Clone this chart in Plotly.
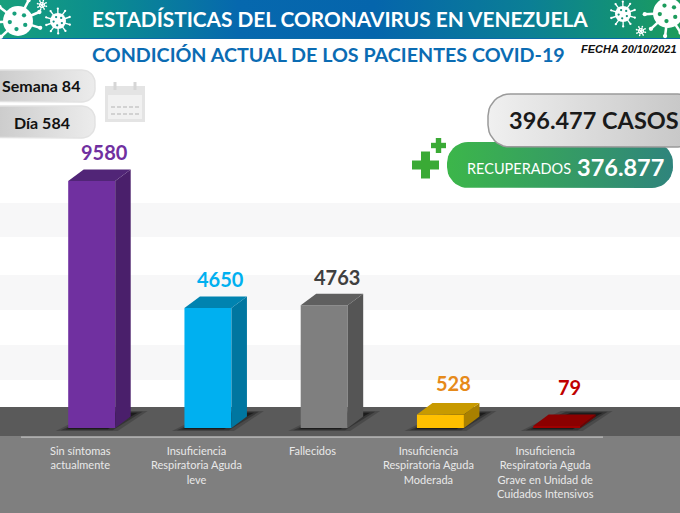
"""
Condicion actual de los pacientes COVID-19 en Venezuela
"""

import math

import plotly.graph_objects as go

categories = [
    "Sin síntomas<br>actualmente",
    "Insuficiencia<br>Respiratoria Aguda<br>leve",
    "Fallecidos",
    "Insuficiencia<br>Respiratoria Aguda<br>Moderada",
    "Insuficiencia<br>Respiratoria Aguda<br>Grave en Unidad de<br>Cuidados Intensivos",
]
values = [9580, 4650, 4763, 528, 79]

front_colors = ["#7030a0", "#00b0f0", "#7f7f7f", "#ffc000", "#a00000"]
side_colors = ["#4a1f6b", "#0076a0", "#555555", "#a98000", "#700000"]
top_colors = ["#512577", "#0083b0", "#5f5f5f", "#c89a00", "#8b0000"]
label_colors = ["#7030a0", "#00b0f0", "#404040", "#e68a1a", "#c00000"]
label_gaps = [19, 19, 18, 21, 28]

WIDTH, HEIGHT = 680, 513
FONT = "Lato"

# page scale: bar 0 sits at x=91.7, the spacing is 116.25 px, zero is at y=428
BAR0_X = 91.7
PX_PER_CAT = 116.25
PX_PER_UNIT = 0.02578
BAR_WIDTH = 47 / PX_PER_CAT
DEPTH_X = 15.5 / PX_PER_CAT
DEPTH_Y = 11.5 / PX_PER_UNIT


def px(x):
    return x / WIDTH


def py(y):
    return 1 - y / HEIGHT


def rect(x0, y0, x1, y1, color, layer="below", **kw):
    return dict(type="rect", xref="paper", yref="paper", x0=px(x0), x1=px(x1), y0=py(y0), y1=py(y1),
                fillcolor=color, line_width=0, layer=layer, **kw)


def circle(cx, cy, r, color):
    return dict(type="circle", xref="paper", yref="paper", x0=px(cx - r), x1=px(cx + r),
                y0=py(cy - r), y1=py(cy + r), fillcolor=color, line_width=0, layer="above")


def seg(x0, y0, x1, y1, color, width):
    return dict(type="line", xref="paper", yref="paper", x0=px(x0), x1=px(x1), y0=py(y0), y1=py(y1),
                line=dict(color=color, width=width), layer="above")


def virus(cx, cy, r, spikes, hole):
    # round body with knobbed spikes, clipped to the header by hand
    out = []
    for k in range(spikes):
        a = 2 * math.pi * k / spikes + 0.3
        ex, ey = cx + 1.55 * r * math.cos(a), cy + 1.55 * r * math.sin(a)
        if ey > 37 or ey < 0:
            continue
        out.append(seg(cx, cy, ex, ey, "white", max(1, r / 6)))
        out.append(circle(ex, ey, max(0.8, r / 7), "white"))
    out.append(circle(cx, cy, r, "white"))
    for k in range(5):
        a = 2 * math.pi * k / 5 + 0.5
        out.append(circle(cx + 0.55 * r * math.cos(a), cy + 0.55 * r * math.sin(a), r / 7, hole))
    return out


def pill_path(x0, y0, x1, y1, r, n=10):
    xs, ys = [], []
    corners = [(x1 - r, y0 + r, -90), (x1 - r, y1 - r, 0), (x0 + r, y1 - r, 90), (x0 + r, y0 + r, 180)]
    for cx, cy, start in corners:
        for k in range(n + 1):
            a = math.radians(start + 90 * k / n)
            xs.append(cx + r * math.cos(a))
            ys.append(cy + r * math.sin(a))
    return xs + xs[:1], ys + ys[:1]


def gradient_pill(x0, y0, x1, y1, r, c0, c1, line=None, line_width=0):
    xs, ys = pill_path(x0, y0, x1, y1, r)
    return go.Scatter(x=xs, y=ys, xaxis="x2", yaxis="y2", mode="lines", fill="toself",
                      fillgradient=dict(type="horizontal", colorscale=[[0, c0], [1, c1]]),
                      line=dict(color=line or "rgba(0,0,0,0)", width=line_width),
                      hoverinfo="skip", showlegend=False)


def text(x, y, s, size, color, bold=True, anchor="center", family=FONT, italic=False):
    if bold:
        s = "<b>" + s + "</b>"
    if italic:
        s = "<i>" + s + "</i>"
    return dict(x=px(x), y=py(y), xref="paper", yref="paper", text=s, showarrow=False,
                xanchor=anchor, yanchor="middle", font=dict(family=family, size=size, color=color))


fig = go.Figure()

# bars, front face
idx = list(range(len(values)))
fig.add_trace(go.Bar(x=idx, y=values, width=BAR_WIDTH, marker=dict(color=front_colors, line_width=0),
                     hoverinfo="skip", showlegend=False))

# side and top faces of each bar
for i, v in zip(idx, values):
    r = i + BAR_WIDTH / 2
    l = i - BAR_WIDTH / 2
    fig.add_trace(go.Scatter(x=[r, r + DEPTH_X, r + DEPTH_X, r, r], y=[0, DEPTH_Y, v + DEPTH_Y, v, 0],
                             mode="lines", fill="toself", fillcolor=side_colors[i], line_width=0,
                             hoverinfo="skip", showlegend=False))
    fig.add_trace(go.Scatter(x=[l, r, r + DEPTH_X, l + DEPTH_X, l], y=[v, v, v + DEPTH_Y, v + DEPTH_Y, v],
                             mode="lines", fill="toself", fillcolor=top_colors[i], line_width=0,
                             hoverinfo="skip", showlegend=False))

# header and pills
fig.add_trace(go.Scatter(x=[0, 680, 680, 0, 0], y=[0, 0, 38, 38, 0], xaxis="x2", yaxis="y2", mode="lines",
                         fill="toself", line_width=0, hoverinfo="skip", showlegend=False,
                         fillgradient=dict(type="horizontal", colorscale=[
                             [0, "#17a07c"], [0.15, "#0b8d8f"], [0.35, "#0668ae"], [0.55, "#0565ac"],
                             [0.78, "#0b7f95"], [0.9, "#129078"], [1, "#1c9c5c"]])))
fig.add_trace(gradient_pill(-14, 70, 95, 102, 13, "#c8c8c8", "#ececec", "#e2e2e2", 1.5))
fig.add_trace(gradient_pill(-14, 106, 95, 138, 13, "#c8c8c8", "#ececec", "#e2e2e2", 1.5))
fig.add_trace(gradient_pill(447, 142, 673, 188, 21, "#3cb64a", "#2f847c"))
fig.add_trace(gradient_pill(488, 94, 700, 147, 22, "#f0f0f0", "#c4c4c4", "#9a9a9a", 1.5))

shapes = [
    rect(0, 203, 680, 237, "#f7f7f8"),
    rect(0, 275, 680, 310, "#f7f7f8"),
    rect(0, 345, 680, 380, "#f7f7f8"),
    rect(0, 407, 680, 436, "#5a5a5a"),
    rect(0, 436, 680, 513, "#7f7f7f"),
    rect(21, 436.5, 603, 437.7, "#bdbdbd"),
    rect(0, 38, 680, 39, "#0b6aa8", layer="above"),
]

# soft floor shadow behind each bar
for i in idx:
    cx = BAR0_X + PX_PER_CAT * i
    for grow, alpha in [(12, 0.18), (7, 0.28), (2, 0.45)]:
        x0, x1 = cx - 24 - grow, cx + 24 + grow
        path = "M {} {} L {} {} L {} {} L {} {} Z".format(
            px(x0), py(429 + grow / 6), px(x1 - 10), py(429 + grow / 6),
            px(x1 + 20), py(413 - grow / 6), px(x0 + 40), py(413 - grow / 6))
        shapes.append(dict(type="path", xref="paper", yref="paper", path=path, fillcolor="black",
                           opacity=alpha, line_width=0, layer="below"))

# virus icons in the header
shapes += virus(18, 21, 15, 9, "#17a07c")
shapes += virus(58, 21, 8, 10, "#0e9088")
shapes += virus(42, 5, 3, 8, "#0e9088")
shapes += virus(623, 14, 8, 10, "#129078")
shapes += virus(668, 13, 15, 9, "#1c9c5c")
shapes += virus(641, 31, 3, 8, "#129078")

# green crosses
for cx, cy, arm, thick in [(425.5, 165, 13.5, 4.5), (438.5, 145.5, 7.5, 2.7)]:
    shapes.append(rect(cx - arm, cy - thick, cx + arm, cy + thick, "#3aaa35", layer="above"))
    shapes.append(rect(cx - thick, cy - arm, cx + thick, cy + arm, "#3aaa35", layer="above"))

# calendar icon
shapes.append(rect(105, 86, 145, 122, "#e4e4e4", layer="above"))
shapes.append(rect(108, 95, 142, 119, "#f1f1f1", layer="above"))
for cx in (115, 135):
    shapes.append(rect(cx - 1.5, 82, cx + 1.5, 90, "#d6d6d6", layer="above"))
for row in (107, 114):
    for col in range(5):
        shapes.append(rect(111 + col * 6, row - 1, 115 + col * 6, row + 1, "#d2d2d2", layer="above"))

annotations = [
    text(340, 19, "ESTADÍSTICAS DEL CORONAVIRUS EN VENEZUELA", 20.8, "white"),
    text(328.5, 54.5, "CONDICIÓN ACTUAL DE LOS PACIENTES COVID-19", 19.7, "#0b6cb3"),
    text(628.5, 49, "FECHA 20/10/2021", 11, "#111111", family="Liberation Sans", italic=True),
    text(41, 85, "Semana 84", 16, "#111111"),
    text(42, 122, "Día 584", 16, "#111111"),
    text(594, 120, "396.477 CASOS", 23.5, "#1a1a1a"),
    text(519, 168, "RECUPERADOS", 14.5, "white", bold=False),
    text(620, 167, "376.877", 23.5, "white"),
]

# value labels and category names hang off the bars
for i, v in zip(idx, values):
    annotations.append(dict(x=i, y=v + DEPTH_Y, text="<b>{}</b>".format(v), showarrow=False, xshift=13,
                            yshift=label_gaps[i] - 15, yanchor="bottom",
                            font=dict(family=FONT, size=20, color=label_colors[i])))
    annotations.append(dict(x=i, y=0, text=categories[i], showarrow=False, xshift=-11.5, yshift=-14,
                            yanchor="top", align="center", font=dict(family=FONT, size=11, color="#e9e9e9")))

fig.update_layout(
    width=WIDTH,
    height=HEIGHT,
    margin=dict(l=0, r=0, t=0, b=0),
    paper_bgcolor="white",
    plot_bgcolor="rgba(0,0,0,0)",
    showlegend=False,
    shapes=shapes,
    annotations=annotations,
    xaxis=dict(range=[-BAR0_X / PX_PER_CAT, (WIDTH - BAR0_X) / PX_PER_CAT], visible=False, fixedrange=True),
    yaxis=dict(range=[-(HEIGHT - 428) / PX_PER_UNIT, 428 / PX_PER_UNIT], visible=False, fixedrange=True),
    xaxis2=dict(range=[0, WIDTH], overlaying="x", visible=False, fixedrange=True),
    yaxis2=dict(range=[HEIGHT, 0], overlaying="y", visible=False, fixedrange=True),
)

# the browser's default body margin would push the picture 8 px in
fig.write_html("out.html", config=dict(displayModeBar=False),
               post_script="document.body.style.margin='0';")
